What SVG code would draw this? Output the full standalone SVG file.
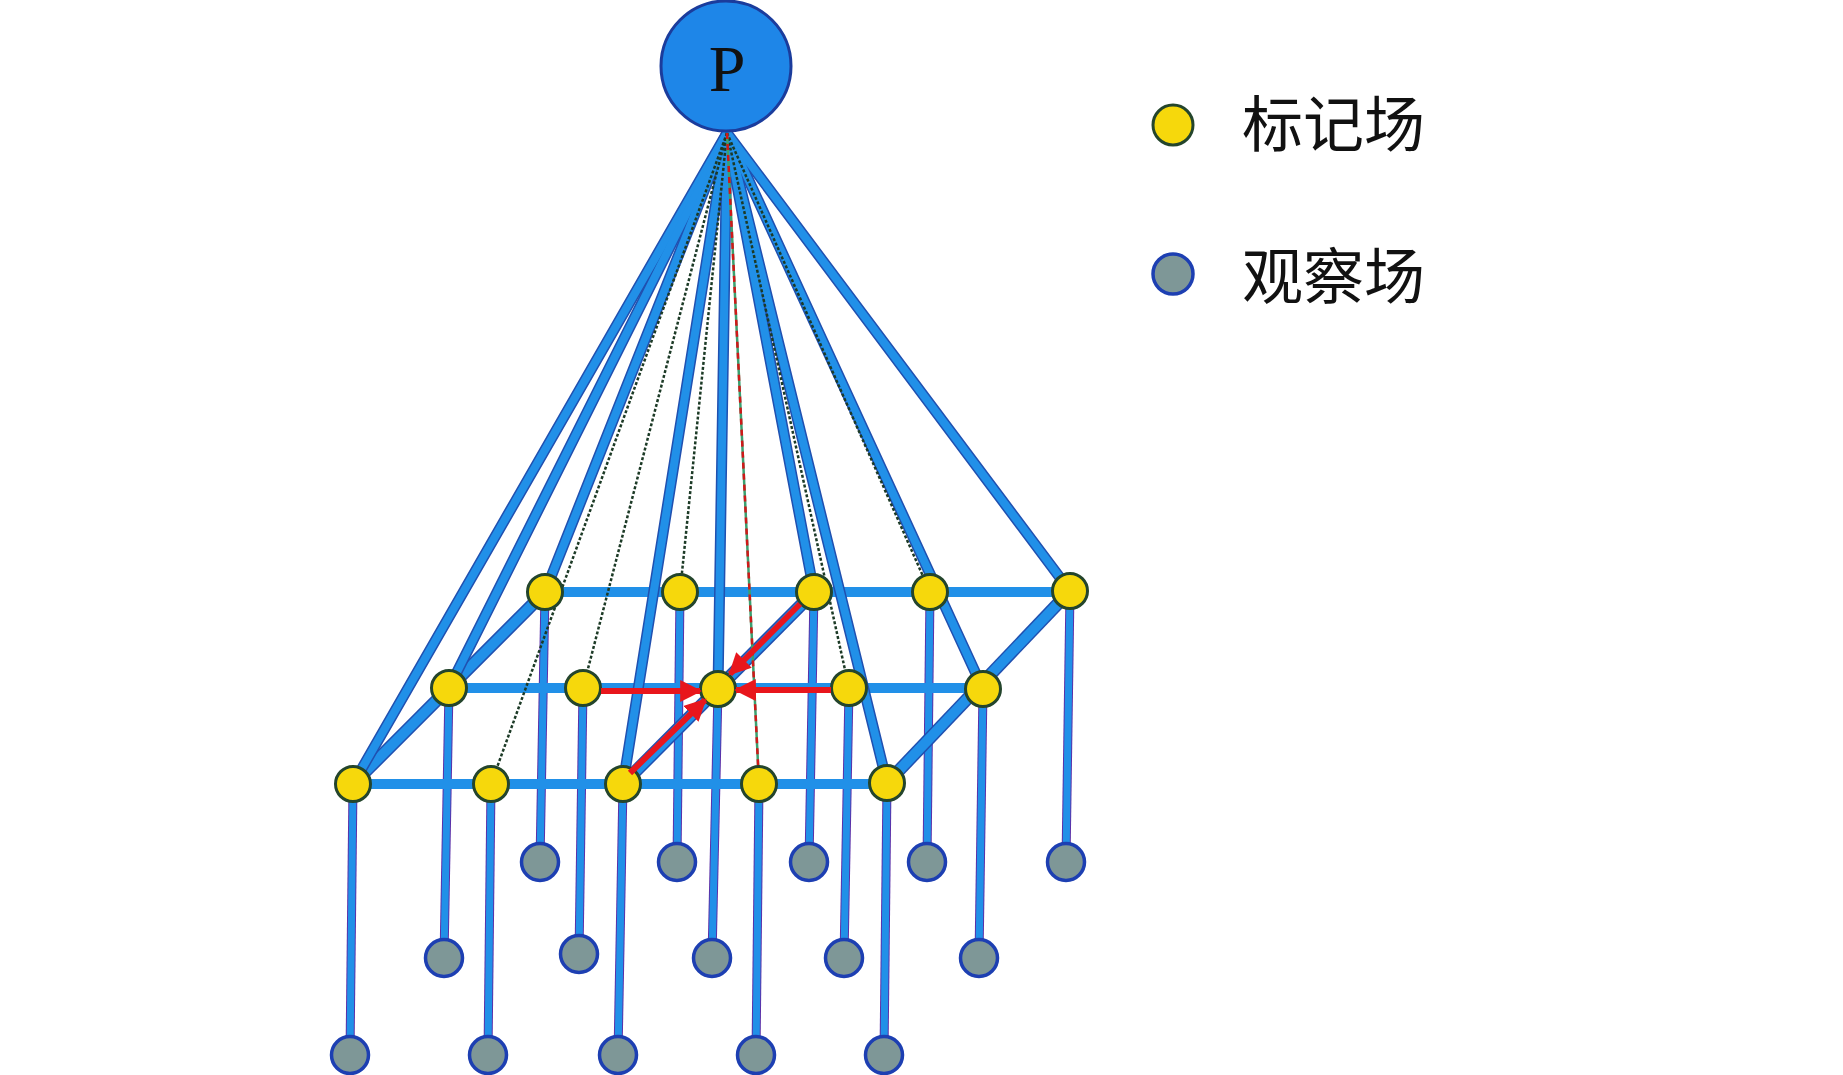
<svg xmlns="http://www.w3.org/2000/svg" width="1843" height="1075" viewBox="0 0 1843 1075">
<style>
.thickE{stroke:#2050b0;stroke-width:11;fill:none;stroke-linecap:round}
.thick{stroke:#2190e8;stroke-width:8;fill:none;stroke-linecap:round}
.dot{stroke:#1c3a26;stroke-width:2.5;fill:none;stroke-dasharray:3 2}
.reddash{stroke:#d01818;stroke-width:2.5;fill:none;stroke-dasharray:6 5}
.gridE{stroke:#2050b0;stroke-width:13;fill:none}
.grid{stroke:#2190e8;stroke-width:10;fill:none}
.vert{stroke:#2190e8;stroke-width:7;fill:none}
.vertE{stroke:#5a30a8;stroke-width:9;fill:none}
.red{stroke:#e8161c;stroke-width:6;fill:none}
.mark{fill:#f6d80c;stroke:#24452c;stroke-width:3}
.obs{fill:#7e9797;stroke:#1d3fb2;stroke-width:3.5}
.cjk{font-family:"Noto Sans CJK SC","Noto Sans CJK JP",sans-serif;font-size:61px;fill:#111}
</style>
<defs>
<marker id="ah" viewBox="0 0 10 10" refX="9" refY="5" markerUnits="userSpaceOnUse" markerWidth="22" markerHeight="22" orient="auto">
<path d="M0,0 L10,5 L0,10 z" fill="#e8161c"/>
</marker>
</defs>
<rect width="1843" height="1075" fill="#ffffff"/>
<g id="connectors">
<g>
<line class="vertE" x1="545" y1="592" x2="540" y2="862"/>
<line class="vertE" x1="680" y1="592" x2="677" y2="862"/>
<line class="vertE" x1="814" y1="592" x2="809" y2="862"/>
<line class="vertE" x1="930" y1="592" x2="927" y2="862"/>
<line class="vertE" x1="1070" y1="591" x2="1066" y2="862"/>
<line class="vertE" x1="449" y1="688" x2="444" y2="958"/>
<line class="vertE" x1="583" y1="688" x2="579" y2="955"/>
<line class="vertE" x1="718" y1="689" x2="712" y2="958"/>
<line class="vertE" x1="849" y1="688" x2="844" y2="958"/>
<line class="vertE" x1="983" y1="689" x2="979" y2="958"/>
<line class="vertE" x1="353" y1="784" x2="350" y2="1055"/>
<line class="vertE" x1="491" y1="784" x2="488" y2="1055"/>
<line class="vertE" x1="623" y1="784" x2="618" y2="1055"/>
<line class="vertE" x1="759" y1="784" x2="756" y2="1055"/>
<line class="vertE" x1="887" y1="783" x2="884" y2="1055"/>
<line class="vert" x1="545" y1="592" x2="540" y2="862"/>
<line class="vert" x1="680" y1="592" x2="677" y2="862"/>
<line class="vert" x1="814" y1="592" x2="809" y2="862"/>
<line class="vert" x1="930" y1="592" x2="927" y2="862"/>
<line class="vert" x1="1070" y1="591" x2="1066" y2="862"/>
<line class="vert" x1="449" y1="688" x2="444" y2="958"/>
<line class="vert" x1="583" y1="688" x2="579" y2="955"/>
<line class="vert" x1="718" y1="689" x2="712" y2="958"/>
<line class="vert" x1="849" y1="688" x2="844" y2="958"/>
<line class="vert" x1="983" y1="689" x2="979" y2="958"/>
<line class="vert" x1="353" y1="784" x2="350" y2="1055"/>
<line class="vert" x1="491" y1="784" x2="488" y2="1055"/>
<line class="vert" x1="623" y1="784" x2="618" y2="1055"/>
<line class="vert" x1="759" y1="784" x2="756" y2="1055"/>
<line class="vert" x1="887" y1="783" x2="884" y2="1055"/>
</g>
<g>
<line class="grid" x1="545" y1="592" x2="1070" y2="592"/>
<line class="grid" x1="449" y1="688" x2="983" y2="688"/>
<line class="grid" x1="353" y1="784" x2="887" y2="784"/>
<line class="gridE" x1="353" y1="784" x2="545" y2="592"/>
<line class="gridE" x1="623" y1="784" x2="814" y2="592"/>
<line class="gridE" x1="887" y1="783" x2="1070" y2="591"/>
<line class="grid" x1="353" y1="784" x2="545" y2="592"/>
<line class="grid" x1="623" y1="784" x2="814" y2="592"/>
<line class="grid" x1="887" y1="783" x2="1070" y2="591"/>
</g>
<g>
<line class="thickE" x1="727" y1="133" x2="353" y2="784"/>
<line class="thickE" x1="727" y1="133" x2="449" y2="688"/>
<line class="thickE" x1="727" y1="133" x2="545" y2="592"/>
<line class="thickE" x1="727" y1="133" x2="623" y2="784"/>
<line class="thickE" x1="727" y1="133" x2="718" y2="689"/>
<line class="thickE" x1="727" y1="133" x2="814" y2="592"/>
<line class="thickE" x1="727" y1="133" x2="887" y2="783"/>
<line class="thickE" x1="727" y1="133" x2="983" y2="689"/>
<line class="thickE" x1="727" y1="133" x2="1070" y2="591"/>
<line class="thick" x1="727" y1="133" x2="353" y2="784"/>
<line class="thick" x1="727" y1="133" x2="449" y2="688"/>
<line class="thick" x1="727" y1="133" x2="545" y2="592"/>
<line class="thick" x1="727" y1="133" x2="623" y2="784"/>
<line class="thick" x1="727" y1="133" x2="718" y2="689"/>
<line class="thick" x1="727" y1="133" x2="814" y2="592"/>
<line class="thick" x1="727" y1="133" x2="887" y2="783"/>
<line class="thick" x1="727" y1="133" x2="983" y2="689"/>
<line class="thick" x1="727" y1="133" x2="1070" y2="591"/>
<line class="dot" x1="727" y1="133" x2="491" y2="784"/>
<line class="dot" x1="727" y1="133" x2="583" y2="688"/>
<line class="dot" x1="727" y1="133" x2="680" y2="592"/>
<line class="dot" x1="727" y1="133" x2="849" y2="688"/>
<line class="dot" x1="727" y1="133" x2="930" y2="592"/>
<line stroke="#3aa070" stroke-width="2.5" x1="727" y1="133" x2="759" y2="784"/>
<line class="reddash" x1="727" y1="133" x2="759" y2="784"/>
</g>
</g>
<g id="P">
<circle cx="726" cy="66" r="65" fill="#1e86e8" stroke="#1b3c9c" stroke-width="3"/>
<text x="727" y="91" text-anchor="middle" font-family="Liberation Serif, serif" font-size="66" fill="#111">P</text>
</g>
<g id="mark-fields">
<circle id="m-b1" class="mark" cx="545" cy="592" r="17.5"/>
<circle id="m-b2" class="mark" cx="680" cy="592" r="17.5"/>
<circle id="m-b3" class="mark" cx="814" cy="592" r="17.5"/>
<circle id="m-b4" class="mark" cx="930" cy="592" r="17.5"/>
<circle id="m-b5" class="mark" cx="1070" cy="591" r="17.5"/>
<circle id="m-m1" class="mark" cx="449" cy="688" r="17.5"/>
<circle id="m-m2" class="mark" cx="583" cy="688" r="17.5"/>
<circle id="m-m3" class="mark" cx="718" cy="689" r="17.5"/>
<circle id="m-m4" class="mark" cx="849" cy="688" r="17.5"/>
<circle id="m-m5" class="mark" cx="983" cy="689" r="17.5"/>
<circle id="m-f1" class="mark" cx="353" cy="784" r="17.5"/>
<circle id="m-f2" class="mark" cx="491" cy="784" r="17.5"/>
<circle id="m-f3" class="mark" cx="623" cy="784" r="17.5"/>
<circle id="m-f4" class="mark" cx="759" cy="784" r="17.5"/>
<circle id="m-f5" class="mark" cx="887" cy="783" r="17.5"/>
</g>
<g id="obs-fields">
<circle id="o-b1" class="obs" cx="540" cy="862" r="18.5"/>
<circle id="o-b2" class="obs" cx="677" cy="862" r="18.5"/>
<circle id="o-b3" class="obs" cx="809" cy="862" r="18.5"/>
<circle id="o-b4" class="obs" cx="927" cy="862" r="18.5"/>
<circle id="o-b5" class="obs" cx="1066" cy="862" r="18.5"/>
<circle id="o-m1" class="obs" cx="444" cy="958" r="18.5"/>
<circle id="o-m2" class="obs" cx="579" cy="954" r="18.5"/>
<circle id="o-m3" class="obs" cx="712" cy="958" r="18.5"/>
<circle id="o-m4" class="obs" cx="844" cy="958" r="18.5"/>
<circle id="o-m5" class="obs" cx="979" cy="958" r="18.5"/>
<circle id="o-f1" class="obs" cx="350" cy="1055" r="18.5"/>
<circle id="o-f2" class="obs" cx="488" cy="1055" r="18.5"/>
<circle id="o-f3" class="obs" cx="618" cy="1055" r="18.5"/>
<circle id="o-f4" class="obs" cx="756" cy="1055" r="18.5"/>
<circle id="o-f5" class="obs" cx="884" cy="1055" r="18.5"/>
</g>
<g id="red-arrows">
<line class="red" x1="601" y1="691" x2="700" y2="691" marker-end="url(#ah)"/>
<line class="red" x1="831" y1="690" x2="736" y2="690" marker-end="url(#ah)"/>
<line class="red" x1="800" y1="604" x2="730" y2="674" marker-end="url(#ah)"/>
<line class="red" x1="630" y1="773" x2="705" y2="700" marker-end="url(#ah)"/>
</g>
<g id="legend">
<circle class="mark" cx="1173" cy="125" r="20"/>
<text class="cjk" x="1242" y="147">标记场</text>
<circle class="obs" cx="1173" cy="274" r="20"/>
<text class="cjk" x="1242" y="299">观察场</text>
</g>
</svg>
